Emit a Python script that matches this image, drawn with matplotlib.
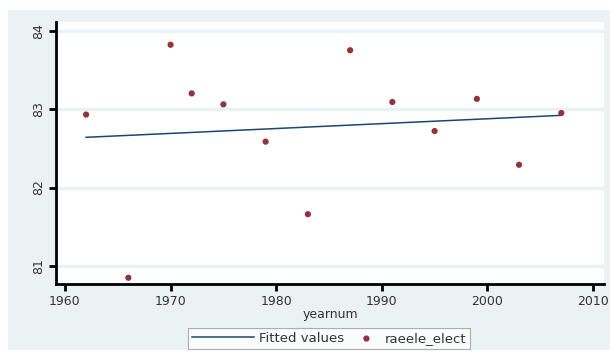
import matplotlib
matplotlib.use("Agg")
import matplotlib.pyplot as plt
from matplotlib.patches import Rectangle
from matplotlib.legend_handler import HandlerPathCollection

# election years and observed values
years = [1962, 1966, 1970, 1972, 1975, 1979, 1983, 1987, 1991, 1995, 1999, 2003, 2007]
raeele_elect = [82.93, 80.85, 83.82, 83.20, 83.06, 82.585, 81.66, 83.75, 83.09, 82.72, 83.13, 82.29, 82.95]

# linear fit, endpoints
fit_years = [1962, 2007]
fitted_values = [82.64, 82.92]

x_ticks = [1960, 1970, 1980, 1990, 2000, 2010]
y_ticks = [81, 82, 83, 84]

bg_color = "#eaf2f3"
line_color = "#1a476f"
marker_color = "#90353b"
text_color = "#333333"


class DotRight(HandlerPathCollection):
    # put the legend marker at the right end of its handle box
    def get_xdata(self, legend, xdescent, ydescent, width, height, fontsize):
        x = [width - xdescent - 9]
        return x, x


plt.rcParams["font.family"] = ["DejaVu Sans"]

fig = plt.figure(figsize=(6.1, 3.6), dpi=100, facecolor="white")

# light graph region behind the plot
fig.patches.append(Rectangle((8 / 610, 10 / 360), 602 / 610, 340 / 360,
                             transform=fig.transFigure, facecolor=bg_color,
                             edgecolor="none", zorder=-10))

ax = fig.add_axes([56 / 610, 1 - 284 / 360, 548 / 610, 262 / 360])
ax.set_zorder(1)
ax.set_facecolor("white")

ax.plot(fit_years, fitted_values, color=line_color, lw=1.1, label="Fitted values", zorder=3)
sc = ax.scatter(years, raeele_elect, s=20, color=marker_color, edgecolors="none",
                label="raeele_elect", zorder=4)

ax.set_xlim(1959.15, 2011.04)
ax.set_ylim(80.77, 84.11)
ax.set_xticks(x_ticks)
ax.set_yticks(y_ticks)
ax.set_yticklabels([str(v) for v in y_ticks], rotation=90, va="center")
ax.tick_params(axis="both", direction="out", length=5, width=2, labelsize=9,
               color="black", labelcolor=text_color, pad=3)

ax.grid(axis="y", color=bg_color, lw=2.5)
ax.set_axisbelow(True)

for side in ["top", "right"]:
    ax.spines[side].set_visible(False)
for side in ["left", "bottom"]:
    ax.spines[side].set_linewidth(2)
    ax.spines[side].set_color("black")

ax.set_xlabel("yearnum", fontsize=9, color=text_color, labelpad=0)

leg = fig.legend(loc="center", bbox_to_anchor=(329 / 610, 1 - 338.5 / 360), ncol=2,
                 fontsize=9.5, frameon=True, fancybox=False, handlelength=4.7,
                 columnspacing=-2.1, borderpad=0.3, handletextpad=0.45,
                 handler_map={sc: DotRight()})
leg.get_frame().set_edgecolor("#999999")
leg.get_frame().set_linewidth(0.8)
leg.get_frame().set_facecolor("white")
for t in leg.get_texts():
    t.set_color(text_color)

fig.savefig("out.png", dpi=100, facecolor="white")
